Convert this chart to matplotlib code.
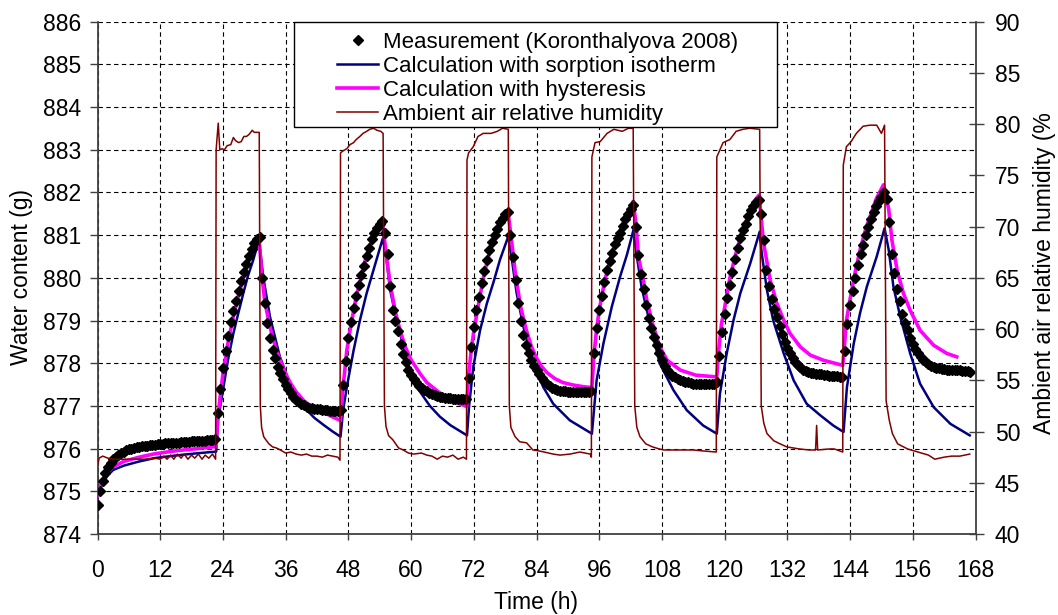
import numpy as np
import matplotlib
matplotlib.use("Agg")
import matplotlib.pyplot as plt
from matplotlib.patches import Rectangle
from matplotlib.lines import Line2D

plt.rcParams['font.family'] = ['Liberation Sans', 'DejaVu Sans']
plt.rcParams['lines.scale_dashes'] = False

# ---------------- data ----------------
x_ticks = [0, 12, 24, 36, 48, 60, 72, 84, 96, 108, 120, 132, 144, 156, 168]
y_ticks = [874, 875, 876, 877, 878, 879, 880, 881, 882, 883, 884, 885, 886]
rh_ticks = [40, 45, 50, 55, 60, 65, 70, 75, 80, 85, 90]

labels = ["Measurement (Koronthalyova 2008)",
          "Calculation with sorption isotherm",
          "Calculation with hysteresis",
          "Ambient air relative humidity"]

# measurement, one value every 0.5 h from 0 h to 167 h
meas_start, meas_step = 0.0, 0.5
meas_c0 = [874.67, 875.00, 875.25, 875.43, 875.57, 875.67, 875.75, 875.81, 875.86, 875.90,
           875.93, 875.96, 875.98, 876.00, 876.02, 876.03, 876.04, 876.05, 876.06, 876.07,
           876.08, 876.08, 876.09, 876.10, 876.10, 876.11, 876.12, 876.12, 876.13, 876.13,
           876.14, 876.14, 876.15, 876.15, 876.16, 876.16, 876.17, 876.17, 876.18, 876.18,
           876.19, 876.19, 876.20, 876.20, 876.21, 876.22]
meas_c1 = [876.84, 877.40, 877.88, 878.28, 878.64, 878.96, 879.23, 879.46, 879.70, 879.92,
           880.13, 880.33, 880.51, 880.67, 880.81, 880.92, 880.95, 880.00, 879.40, 878.94,
           878.59, 878.31, 878.12, 877.92, 877.77, 877.64, 877.50, 877.39, 877.30, 877.22,
           877.15, 877.09, 877.05, 877.01, 876.98, 876.96, 876.94, 876.93, 876.92, 876.92,
           876.91, 876.90, 876.90, 876.89, 876.89, 876.88, 876.88, 876.90]
meas_c2 = [877.48, 878.05, 878.58, 878.96, 879.30, 879.57, 879.83, 880.07, 880.27, 880.51,
           880.71, 880.90, 881.05, 881.17, 881.27, 881.32, 881.05, 880.55, 879.80, 879.24,
           879.00, 878.75, 878.46, 878.22, 878.03, 877.84, 877.73, 877.64, 877.55, 877.47,
           877.42, 877.38, 877.34, 877.30, 877.28, 877.25, 877.23, 877.21, 877.20, 877.19,
           877.18, 877.18, 877.17, 877.17, 877.17, 877.16, 877.16, 877.17]
meas_c3 = [877.65, 878.38, 878.86, 879.25, 879.55, 879.89, 880.17, 880.42, 880.65, 880.84,
           881.00, 881.15, 881.31, 881.41, 881.49, 881.55, 881.00, 880.48, 879.95, 879.42,
           878.98, 878.65, 878.42, 878.24, 878.07, 877.93, 877.83, 877.74, 877.66, 877.58,
           877.52, 877.47, 877.42, 877.39, 877.37, 877.36, 877.35, 877.34, 877.33, 877.33,
           877.33, 877.32, 877.33, 877.33, 877.32, 877.33, 877.33, 877.36]
meas_c4 = [878.25, 878.82, 879.24, 879.57, 879.90, 880.19, 880.39, 880.58, 880.79, 880.93,
           881.06, 881.22, 881.37, 881.49, 881.61, 881.71, 881.20, 880.54, 880.08, 879.73,
           879.36, 879.06, 878.82, 878.62, 878.43, 878.24, 878.08, 877.94, 877.84, 877.76,
           877.71, 877.67, 877.63, 877.60, 877.58, 877.56, 877.55, 877.53, 877.52, 877.52,
           877.52, 877.52, 877.51, 877.52, 877.52, 877.52, 877.52, 877.55]
meas_c5 = [878.17, 878.72, 879.15, 879.53, 879.84, 880.14, 880.44, 880.69, 880.93, 881.11,
           881.27, 881.45, 881.58, 881.69, 881.77, 881.83, 881.50, 880.88, 880.18, 879.80,
           879.50, 879.27, 879.08, 878.88, 878.68, 878.49, 878.35, 878.24, 878.13, 878.03,
           877.97, 877.91, 877.85, 877.82, 877.80, 877.78, 877.76, 877.75, 877.74, 877.74,
           877.73, 877.72, 877.71, 877.71, 877.70, 877.69, 877.68, 877.68]
meas_c6 = [878.28, 878.93, 879.36, 879.69, 880.00, 880.30, 880.57, 880.76, 881.01, 881.19,
           881.37, 881.55, 881.68, 881.79, 881.90, 882.00, 881.85, 881.30, 880.57, 880.11,
           879.74, 879.45, 879.15, 878.95, 878.77, 878.60, 878.46, 878.34, 878.23, 878.14,
           878.07, 878.02, 877.98, 877.94, 877.92, 877.90, 877.88, 877.87, 877.86, 877.85,
           877.85, 877.84, 877.84, 877.83, 877.83, 877.82, 877.81, 877.81, 877.80]

# calculation with sorption isotherm (time h, water content g)
iso_pts = [
    (0, 874.85), (0.5, 875.05), (1, 875.2), (2, 875.38), (3, 875.5), (5, 875.6), (8, 875.7),
    (11, 875.78), (15, 875.84), (19, 875.89), (22.7, 875.93),
    (23.1, 876.7), (24.1, 877.44), (25.0, 878.1), (26.0, 878.7), (27.0, 879.2), (27.9, 879.64),
    (28.8, 880.05), (29.8, 880.42), (30.9, 880.89),
    (31.7, 880.03), (33.0, 879.09), (34.9, 878.15), (36.8, 877.53), (38.5, 877.15), (40.0, 876.91),
    (41.5, 876.72), (43.2, 876.56), (45.0, 876.4), (46.5, 876.28),
    (47.0, 876.9), (47.7, 877.44), (49.0, 878.3), (50.2, 879.0), (51.5, 879.64), (52.8, 880.18),
    (54.6, 880.93),
    (55.3, 880.42), (56.0, 879.71), (57.25, 879.01), (59.2, 878.07), (61.1, 877.44), (63.6, 877.0),
    (65.5, 876.75), (67.5, 876.55), (70.7, 876.31),
    (71.1, 877.0), (71.9, 877.91), (73.2, 878.77), (74.5, 879.4), (75.8, 879.91), (77.0, 880.42),
    (78.6, 880.97),
    (79.3, 880.42), (80.2, 879.64), (81.5, 878.85), (83.4, 877.99), (85.3, 877.44), (87.2, 877.05),
    (90.4, 876.66), (94.6, 876.35),
    (95.5, 877.6), (96.8, 878.46), (98.4, 879.32), (100.0, 880.03), (101.3, 880.54), (102.55, 881.12),
    (103.2, 880.5), (104.1, 879.79), (105.7, 878.93), (107.6, 877.99), (110.2, 877.37),
    (112.75, 876.9), (115.9, 876.54), (118.5, 876.35),
    (119.1, 877.29), (120.4, 878.23), (121.7, 879.01), (123.0, 879.64), (124.9, 880.34), (126.7, 881.08),
    (127.1, 880.57), (128.1, 879.71), (129.3, 879.0), (131.3, 878.23), (133.2, 877.6), (135.7, 877.05),
    (138.3, 876.78), (140.8, 876.54), (142.75, 876.39),
    (143.4, 877.44), (144.7, 878.46), (145.9, 879.17), (147.2, 879.79), (149.1, 880.5), (150.6, 881.16),
    (151.4, 880.65), (152.3, 879.79), (153.6, 879.09), (155.5, 878.23), (157.4, 877.52), (160.0, 876.97),
    (163.2, 876.58), (166.9, 876.31),
]

# calculation with hysteresis (time h, water content g)
hys_pts = [
    (0, 874.9), (0.5, 875.1), (1, 875.25), (2, 875.45), (3, 875.57), (5, 875.7), (8, 875.8),
    (11, 875.88), (15, 875.95), (19, 876.0), (22.7, 876.05),
    (23.0, 876.7), (23.5, 877.25), (24, 877.75), (25, 878.5), (26, 879.1), (27, 879.6), (28, 880.05),
    (29, 880.45), (30, 880.78), (30.9, 880.95),
    (31.5, 880.0), (32, 879.45), (33, 878.85), (34, 878.4), (35, 878.05), (36, 877.75), (37, 877.52),
    (38, 877.33), (39.5, 877.12), (41, 876.98), (43, 876.87), (45, 876.74), (46.5, 876.66),
    (47.0, 877.45), (47.7, 878.3), (48.5, 878.9), (49.5, 879.55), (50.5, 880.05), (51.5, 880.55),
    (52.5, 880.88), (53.5, 881.1), (54.6, 881.22),
    (55.3, 880.5), (56, 879.85), (57, 879.2), (58, 878.72), (59, 878.35), (60, 878.08), (61.7, 877.76),
    (63, 877.55), (65, 877.35), (67, 877.18), (69, 877.06), (70.65, 876.99),
    (71.0, 877.7), (71.5, 878.3), (72, 878.75), (73, 879.45), (74, 880.1), (75, 880.6), (76, 880.97),
    (77, 881.25), (78, 881.42), (78.6, 881.5),
    (79.2, 880.9), (80, 880.05), (81, 879.3), (82, 878.8), (83, 878.4), (84, 878.12), (85, 877.92),
    (86, 877.78), (87.5, 877.64), (89, 877.55), (91, 877.49), (93, 877.45), (94.6, 877.43),
    (95.0, 878.2), (95.5, 878.8), (96, 879.25), (97, 879.9), (98, 880.4), (99, 880.8), (100, 881.1),
    (101, 881.4), (102, 881.65), (102.5, 881.79),
    (103, 881.3), (103.5, 880.5), (104.5, 879.9), (105.1, 879.48), (106.2, 878.93), (107.6, 878.38),
    (109, 878.07), (111.5, 877.84), (114.5, 877.72), (118.5, 877.68),
    (118.8, 878.23), (119.4, 878.93), (120, 879.3), (121, 880.0), (122, 880.5), (123, 880.95),
    (124, 881.3), (125, 881.6), (126, 881.85), (126.6, 881.94),
    (127.4, 880.85), (128.7, 879.95), (130.0, 879.4), (131.3, 879.01), (132.5, 878.7), (134.5, 878.38),
    (136.4, 878.19), (138.9, 878.07), (142.6, 877.95),
    (142.9, 878.38), (143.3, 879.0), (144, 879.5), (145, 880.15), (146, 880.7), (147, 881.15),
    (148, 881.5), (149, 881.85), (150.4, 882.18),
    (151.4, 881.6), (152.0, 880.89), (153.0, 880.18), (154.2, 879.64), (155.5, 879.24), (157.4, 878.77),
    (160.0, 878.42), (162.5, 878.23), (164.4, 878.15),
]

# ambient air relative humidity (time h, %)
rh_pts = [
    (0, 46.6), (0.3, 47.4), (1, 47.6), (2, 47.4), (3, 47.3), (6, 47.3), (9, 47.3), (11, 47.4),
    (12, 47.3), (12.7, 47.6), (13.3, 47.3), (14, 47.7), (14.6, 47.3), (15.3, 47.8), (16, 47.4),
    (16.6, 47.8), (17.3, 47.3), (18, 47.7), (18.6, 47.4), (19.3, 47.8), (20, 47.3), (20.6, 47.7),
    (21.3, 47.4), (22, 47.8), (22.6, 47.3),
    (22.7, 77.5), (23.1, 80.1), (23.4, 77.5), (23.8, 77.6), (24.3, 77.5), (24.8, 77.9), (25.5, 78.0),
    (26.0, 78.7), (26.4, 78.4), (27.0, 78.2), (27.5, 78.3), (28.0, 78.8), (28.5, 78.8), (29.0, 79.0),
    (29.6, 79.4), (30.0, 79.2), (30.95, 79.2),
    (31.15, 52.5), (31.4, 50.4), (31.8, 49.5), (32.2, 49.2), (32.8, 48.8), (33.5, 48.5), (34.2, 48.4),
    (35, 48.2), (36, 47.9), (37, 48.0), (38, 47.8), (39, 47.7), (40, 47.8), (41, 47.6), (42, 47.6),
    (43, 47.5), (44, 47.7), (45, 47.6), (46, 47.5), (46.4, 47.2),
    (46.5, 77.2), (47.0, 77.4), (47.7, 77.6), (48.3, 78.0), (49.0, 78.2), (49.5, 78.5), (50.2, 78.8),
    (50.8, 79.1), (51.5, 79.3), (52.1, 79.5), (52.8, 79.6), (53.5, 79.4), (54.2, 79.3), (54.65, 79.1),
    (54.9, 52.5), (55.2, 50.5), (55.7, 49.6), (56.5, 49.2), (57.6, 48.4), (58.5, 48.2), (59.5, 47.9),
    (60.5, 47.8), (62, 47.9), (63, 47.7), (64, 47.6), (65, 47.3), (66, 47.6), (67, 47.5), (68, 47.7),
    (69, 47.3), (70, 47.5), (70.6, 47.3),
    (70.7, 76.5), (71.0, 77.2), (71.9, 77.8), (72.8, 78.8), (73.8, 79.1), (75.3, 79.1), (76.5, 79.3),
    (77.5, 79.6), (78.6, 79.5),
    (78.8, 52.5), (79.1, 50.4), (79.9, 49.5), (80.8, 49.0), (82.1, 48.9), (83.3, 48.2), (84.6, 48.1),
    (87.2, 47.8), (88.5, 47.7), (90.4, 47.8), (92.3, 48.0), (94.3, 47.8), (94.5, 47.5),
    (94.6, 76.8), (95.2, 78.2), (96.2, 78.3), (97.5, 79.1), (98.8, 79.5), (100.4, 79.3), (101.6, 79.6),
    (102.5, 79.6),
    (102.8, 52.5), (103.2, 50.4), (103.8, 49.5), (104.9, 48.8), (106.2, 48.5), (107.5, 48.3),
    (108.4, 48.2), (111, 48.2), (114, 48.2), (116, 48.1), (118.4, 48.0),
    (118.5, 76.8), (119.7, 78.2), (121.0, 78.5), (122.2, 79.3), (123.5, 79.5), (124.8, 79.6),
    (126.7, 79.5),
    (127.0, 52.5), (127.5, 50.8), (128.1, 49.8), (129.4, 49.1), (130.6, 48.8), (131.9, 48.5),
    (134.3, 48.3), (136.2, 48.2), (137.4, 48.2), (137.6, 50.6), (137.8, 48.2), (140, 48.3), (141, 48.3),
    (142.6, 48.0),
    (142.7, 76.0), (143.3, 77.8), (144.2, 78.3), (145.2, 79.1), (146.5, 79.8), (147.8, 79.9),
    (149.1, 79.9), (150.0, 79.1), (150.6, 79.9),
    (150.9, 53.0), (151.5, 51.1), (152.1, 49.8), (153.1, 48.8), (155, 48.3), (157, 48.0), (159, 47.7),
    (160.2, 47.3), (162, 47.5), (163.4, 47.6), (165, 47.6), (166.9, 47.8),
]

# ---------------- figure ----------------
W, H = 1058, 615
fig = plt.figure(figsize=(W / 100, H / 100), dpi=100)
L, R, T, B = 97.5, 975.5, 21.7, 534.0
ax = fig.add_axes([L / W, 1 - B / H, (R - L) / W, (B - T) / H])
ax2 = ax.twinx()

meas = np.array(meas_c0 + meas_c1 + meas_c2 + meas_c3 + meas_c4 + meas_c5 + meas_c6)
t_meas = meas_start + meas_step * np.arange(len(meas))
t_iso, w_iso = zip(*iso_pts)
t_hys, w_hys = zip(*hys_pts)
t_rh, v_rh = zip(*rh_pts)

ax.plot(t_iso, w_iso, color='#000080', lw=1.8, zorder=3)
ax.plot(t_hys, w_hys, color='#FF00FF', lw=2.6, zorder=4)
ax.plot(t_meas, meas, ls='none', marker='D', ms=5, color='black', zorder=5)
ax2.plot(t_rh, v_rh, color='#800000', lw=1.1, zorder=3)

ax.set_xlim(0, 168)
ax.set_ylim(874, 886)
ax2.set_ylim(40, 90)
ax.set_xticks(x_ticks)
ax.set_yticks(y_ticks)
ax2.set_yticks(rh_ticks)

ax.grid(True, color='black', linestyle=(0, (3.2, 2.4)), linewidth=0.8)
ax.set_axisbelow(True)

spine_c = '#404040'
for a in (ax, ax2):
    a.spines['top'].set_visible(False)
    for s in ('left', 'right', 'bottom'):
        a.spines[s].set_color(spine_c)
        a.spines[s].set_linewidth(1.3)
ax2.spines['left'].set_visible(False)
ax2.spines['bottom'].set_visible(False)
ax.spines['right'].set_visible(False)

FS = 16.5
ax.tick_params(axis='y', direction='out', length=5.5, width=1, color=spine_c,
               labelsize=FS, pad=6.5)
ax.tick_params(axis='x', direction='out', length=4.3, width=1, color=spine_c,
               labelsize=FS, pad=13.5)
ax2.tick_params(axis='y', direction='inout', length=10.8, width=1, color=spine_c,
                labelsize=FS, pad=8.6)

fig.text(22 / W, 1 - 277 / H, 'Water content (g)', rotation=90, ha='center', va='center',
         fontsize=FS)
fig.text(1045 / W, 1 - 273 / H, 'Ambient air relative humidity (%', rotation=90,
         ha='center', va='center', fontsize=FS)
fig.text(536 / W, 1 - 603 / H, 'Time (h)', ha='center', va='center', fontsize=FS)

# legend box and legend
fig.add_artist(Rectangle((294 / W, 1 - 127 / H), (777 - 294) / W, (127 - 22) / H,
                         transform=fig.transFigure, facecolor='white', edgecolor='black',
                         lw=1.0, zorder=4))
handles = [Line2D([], [], ls='none', marker='D', ms=5, color='black'),
           Line2D([], [], color='#000080', lw=1.8),
           Line2D([], [], color='#FF00FF', lw=2.6),
           Line2D([], [], color='#800000', lw=1.1)]
leg = fig.legend(handles, labels, loc='upper left', bbox_to_anchor=(337 / W, 1 - 32 / H),
                 frameon=False, fontsize=16, handlelength=1.845, handletextpad=0.225,
                 labelspacing=0.13, borderpad=0, borderaxespad=0, numpoints=1)
leg.set_zorder(5)

fig.savefig('out.png', dpi=100)
